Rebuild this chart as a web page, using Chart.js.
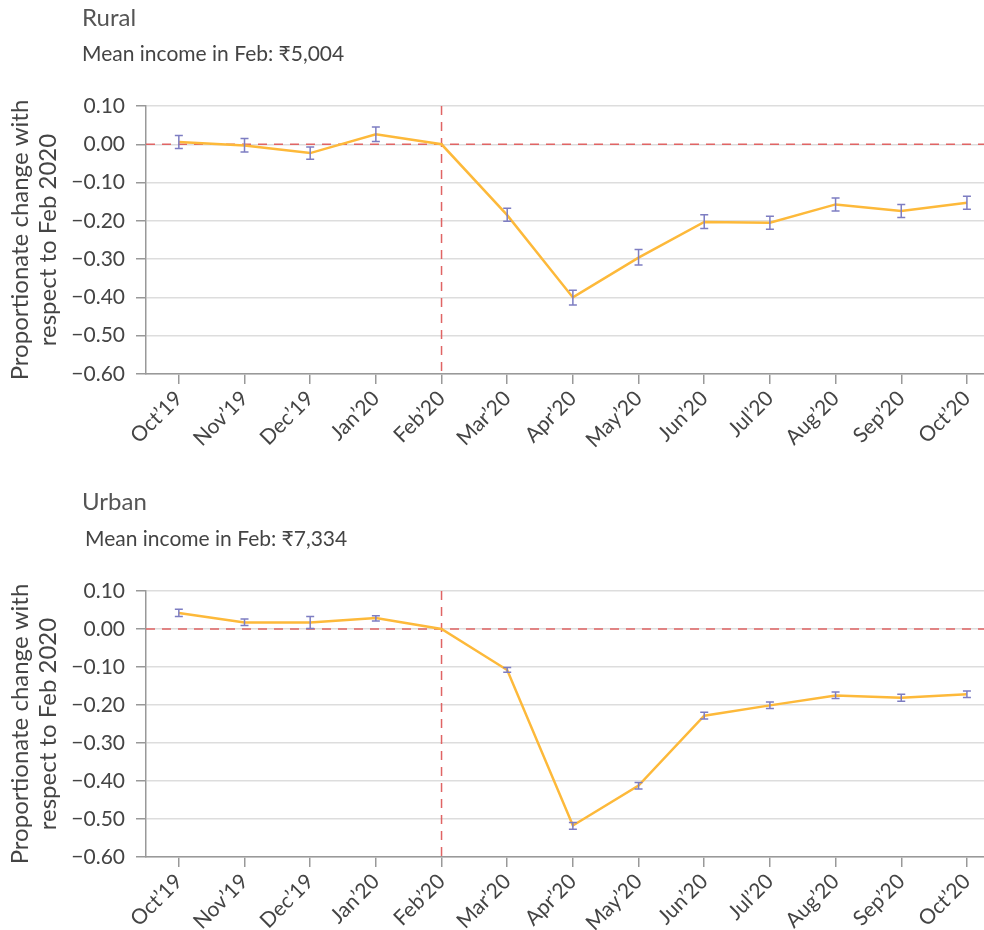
<!DOCTYPE html>
<html>
<head>
<meta charset="utf-8">
<script src="https://cdn.jsdelivr.net/npm/chart.js@4.4.0/dist/chart.umd.min.js"></script>
<style>
  body { margin: 0; background: #fff; font-family: Lato, "Noto Sans", sans-serif; color: #444; }
  .panel { position: absolute; left: 0; width: 984px; height: 465px; overflow: hidden; }
  .panel canvas { position: absolute; left: 0; top: 0; }
  .title { position: absolute; left: 82px; font-size: 24px; color: #555; white-space: nowrap; }
  .sub { position: absolute; left: 82px; font-size: 21px; color: #444; white-space: nowrap; }
</style>
</head>
<body>
<div class="panel" style="top:0">
  <canvas id="chart-rural" width="984" height="465"></canvas>
  <div class="title" style="top:2px">Rural</div>
  <div class="sub" style="top:40px">Mean income in Feb: ₹5,004</div>
</div>
<div class="panel" style="top:465px">
  <canvas id="chart-urban" width="984" height="465"></canvas>
  <div class="title" style="top:21px">Urban</div>
  <div class="sub" style="left:85px;top:60px">Mean income in Feb: ₹7,334</div>
</div>

<script>
// --- data ---
const months = ["Oct’19", "Nov’19", "Dec’19", "Jan’20", "Feb’20", "Mar’20", "Apr’20",
                "May’20", "Jun’20", "Jul’20", "Aug’20", "Sep’20", "Oct’20"];
const baseIndex = 4; // Feb'20 = reference month

const ruralMean = [0.006, -0.003, -0.023, 0.026, 0, -0.185, -0.400, -0.296, -0.203, -0.205, -0.157, -0.174, -0.153];
const ruralLow  = [-0.011, -0.020, -0.039, 0.007, null, -0.201, -0.420, -0.315, -0.220, -0.222, -0.174, -0.191, -0.170];
const ruralHigh = [0.023, 0.015, -0.007, 0.045, null, -0.167, -0.381, -0.275, -0.184, -0.188, -0.140, -0.157, -0.136];

const urbanMean = [0.042, 0.017, 0.017, 0.029, 0, -0.108, -0.517, -0.412, -0.228, -0.201, -0.175, -0.181, -0.172];
const urbanLow  = [0.033, 0.009, 0.001, 0.021, null, -0.114, -0.527, -0.421, -0.237, -0.209, -0.183, -0.190, -0.180];
const urbanHigh = [0.052, 0.026, 0.033, 0.035, null, -0.101, -0.509, -0.404, -0.219, -0.192, -0.166, -0.172, -0.163];

const yTitle = ["Proportionate change with", "respect to Feb 2020"];

const FONT = "Lato, 'Noto Sans', sans-serif";
const xMin = -0.5;
const xMax = months.length - 0.74;

// error bars drawn with the chart's own scales
const errorBars = {
  id: "errorBars",
  afterDatasetsDraw(chart, args, opts) {
    const { ctx, scales: { x, y } } = chart;
    ctx.save();
    ctx.strokeStyle = "#7d7dc2";
    ctx.lineWidth = 1.5;
    opts.low.forEach((lo, i) => {
      const hi = opts.high[i];
      if (lo == null || hi == null) return;
      const px = x.getPixelForValue(i);
      const y1 = y.getPixelForValue(lo);
      const y2 = y.getPixelForValue(hi);
      ctx.beginPath();
      ctx.moveTo(px, y1); ctx.lineTo(px, y2);
      ctx.moveTo(px - 4, y1); ctx.lineTo(px + 4, y1);
      ctx.moveTo(px - 4, y2); ctx.lineTo(px + 4, y2);
      ctx.stroke();
    });
    ctx.restore();
  },
};

function fmt(v) {
  if (Math.abs(v) < 1e-9) return "0.00";
  return (v < 0 ? "−" : "") + Math.abs(v).toFixed(2);
}

function makeChart(canvasId, mean, low, high, padTop, axisHeight) {
  const ctx = document.getElementById(canvasId).getContext("2d");
  return new Chart(ctx, {
    type: "line",
    data: {
      datasets: [
        {
          data: mean.map((v, i) => ({ x: i, y: v })),
          borderColor: "#fdb93a",
          borderWidth: 2.5,
          pointRadius: 0,
          tension: 0,
        },
        {
          // horizontal reference at 0
          data: [{ x: xMin, y: 0 }, { x: xMax, y: 0 }],
          borderColor: "#e06464",
          borderWidth: 1.5,
          borderDash: [9, 7],
          pointRadius: 0,
        },
        {
          // vertical reference at Feb'20
          data: [{ x: baseIndex, y: 0.1 }, { x: baseIndex, y: -0.6 }],
          borderColor: "#e06464",
          borderWidth: 1.5,
          borderDash: [9, 7],
          pointRadius: 0,
        },
      ],
    },
    options: {
      responsive: false,
      animation: false,
      layout: { padding: { top: padTop, left: 0, right: 0, bottom: 0 } },
      plugins: {
        legend: { display: false },
        tooltip: { enabled: false },
        errorBars: { low, high },
      },
      scales: {
        x: {
          type: "linear",
          min: xMin,
          max: xMax,
          afterBuildTicks: (s) => { s.ticks = months.map((m, i) => ({ value: i })); },
          afterFit: (s) => {
            s.height = axisHeight;
            s.paddingLeft = 0;
            s.paddingRight = 0;
          },
          grid: { drawOnChartArea: false, drawTicks: true, tickLength: 10, tickColor: "#999", lineWidth: 1.5 },
          border: { color: "#999", width: 1.5 },
          ticks: {
            autoSkip: false,
            maxRotation: 45,
            minRotation: 45,
            padding: 2,
            color: "#444",
            font: { family: FONT, size: 21 },
            callback: (v) => months[v],
          },
        },
        y: {
          min: -0.6,
          max: 0.1,
          afterFit: (s) => { s.width = 146; },
          grid: { color: "#dddddd", lineWidth: 1.5, tickLength: 10, tickColor: "#999" },
          border: { color: "#999", width: 1.5 },
          ticks: {
            stepSize: 0.1,
            padding: 11,
            color: "#444",
            font: { family: FONT, size: 21 },
            callback: (v) => fmt(v),
          },
          title: {
            display: true,
            text: yTitle,
            color: "#444",
            font: { family: FONT, size: 24, lineHeight: 1.17 },
            padding: { top: 6, bottom: 0 },
          },
        },
      },
    },
    plugins: [errorBars],
  });
}

makeChart("chart-rural", ruralMean, ruralLow, ruralHigh, 106, 91);
makeChart("chart-urban", urbanMean, urbanLow, urbanHigh, 126, 73);
</script>
</body>
</html>
